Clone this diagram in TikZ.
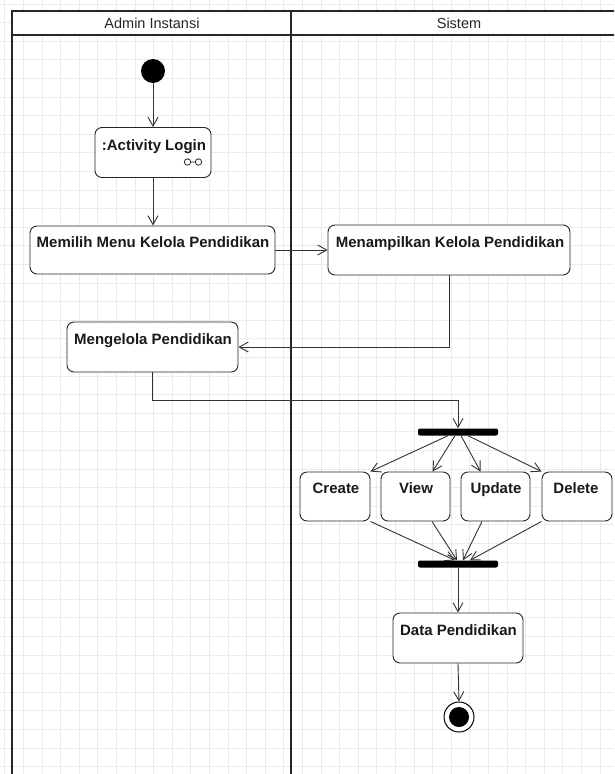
\documentclass[tikz,border=0pt]{standalone}
\usepackage{fontspec}
\setmainfont{Liberation Sans}
\usetikzlibrary{arrows.meta}
\begin{document}
\begin{tikzpicture}[x=1pt,y=-1pt,
  lane/.style={draw=black!85, line width=1.5pt},
  gridline/.style={draw=black!8, line width=0.6pt},
  flow/.style={draw=black!80, line width=0.9pt, -{Straight Barb[length=9pt,width=10pt,line width=0.9pt]}},
  act/.style={draw=black!85, line width=0.9pt, fill=white, rounded corners=7pt, inner sep=0pt},
  lbl/.style={font=\bfseries\fontsize{15}{18}\selectfont, inner sep=0pt, anchor=base, text=black!90},
  hdr/.style={font=\fontsize{14.5}{17}\selectfont, inner sep=0pt, anchor=base, text=black!85},
  bar/.style={fill=black, draw=none, minimum width=80pt, minimum height=7pt, inner sep=0pt, rounded corners=2pt},
]
\useasboundingbox (0,0) rectangle (614,774);
\clip (0,0) rectangle (614,774);
\fill[white] (0,0) rectangle (614,774);
% grid
\foreach \k in {0,...,33} { \draw[gridline] (4.7+18.6*\k,0) -- (4.7+18.6*\k,774); }
\foreach \k in {0,...,41} { \draw[gridline] (0,3.9+18.6*\k) -- (614,3.9+18.6*\k); }
% swimlanes
\fill[white] (12,11) rectangle (614,35);
\draw[lane] (12,774) -- (12,11) -- (620,11);
\draw[lane] (12,35) -- (620,35);
\draw[lane] (291,11) -- (291,774);
\node[hdr] (h1) at (152,28) {Admin Instansi};
\node[hdr] (h2) at (459,28) {Sistem};

% nodes
\node[circle, fill=black, minimum size=24pt, inner sep=0pt] (start) at (153,71) {};
\node[act, minimum width=116pt, minimum height=50pt] (login) at (153,152.5) {};
\node[lbl] (loginT) at (154,150) {:Activity Login};
\draw[black!85, line width=0.8pt] (187.5,162) circle (3.2pt) (198.5,162) circle (3.2pt) (190.7,162) -- (195.3,162);

\node[act, minimum width=245pt, minimum height=48pt] (memilih) at (152.5,250) {};
\node[lbl] (memilihT) at (153,247) {Memilih Menu Kelola Pendidikan};

\node[act, minimum width=242pt, minimum height=50pt] (menampilkan) at (449,250) {};
\node[lbl] (menampilkanT) at (450,247) {Menampilkan Kelola Pendidikan};

\node[act, minimum width=171pt, minimum height=50pt] (mengelola) at (152.5,347) {};
\node[lbl] (mengelolaT) at (153,344) {Mengelola Pendidikan};

\node[bar] (fork) at (458,432) {};

\node[act, minimum width=70pt, minimum height=49pt] (create) at (335,496.5) {};
\node[lbl] (createT) at (336,493) {Create};
\node[act, minimum width=69pt, minimum height=49pt] (view) at (415.5,496.5) {};
\node[lbl] (viewT) at (416,493) {View};
\node[act, minimum width=69pt, minimum height=49pt] (update) at (495.5,496.5) {};
\node[lbl] (updateT) at (496,493) {Update};
\node[act, minimum width=70pt, minimum height=49pt] (delete) at (577,496.5) {};
\node[lbl] (deleteT) at (576,493) {Delete};

\node[bar] (join) at (458,564) {};

\node[act, minimum width=130pt, minimum height=50pt] (data) at (458,638) {};
\node[lbl] (dataT) at (458.5,635) {Data Pendidikan};

\node[circle, draw=black, line width=1pt, fill=white, minimum size=30pt, inner sep=0pt] (end) at (459,717) {};
\node[circle, fill=black, minimum size=20pt, inner sep=0pt] (endin) at (end) {};

% connectors
\draw[flow] (start.south) -- (login.north);
\draw[flow] (login.south) -- (login.south |- memilih.north);
\draw[flow] (memilih.east) -- (menampilkan.west);
\draw[flow] (menampilkan.south) |- (mengelola.east);
\draw[flow] (mengelola.south) -- ++(0,28) -| (fork.north);

\draw[flow] ([xshift=-10pt]fork.south) -- (create.north east);
\draw[flow] ([xshift=-3pt]fork.south) -- ([xshift=17pt]view.north);
\draw[flow] ([xshift=3pt]fork.south) -- ([xshift=-15pt]update.north);
\draw[flow] ([xshift=10pt]fork.south) -- (delete.north west);

\draw[flow] (create.south east) -- ([xshift=-3pt]join.north);
\draw[flow] ([xshift=16.5pt]view.south) -- ([xshift=-1pt]join.north);
\draw[flow] ([xshift=-13.5pt]update.south) -- ([xshift=5pt]join.north);
\draw[flow] (delete.south west) -- ([xshift=12pt]join.north);

\draw[flow] (join.south) -- (data.north);
\draw[flow] (data.south) -- (end.north);
\end{tikzpicture}
\end{document}
